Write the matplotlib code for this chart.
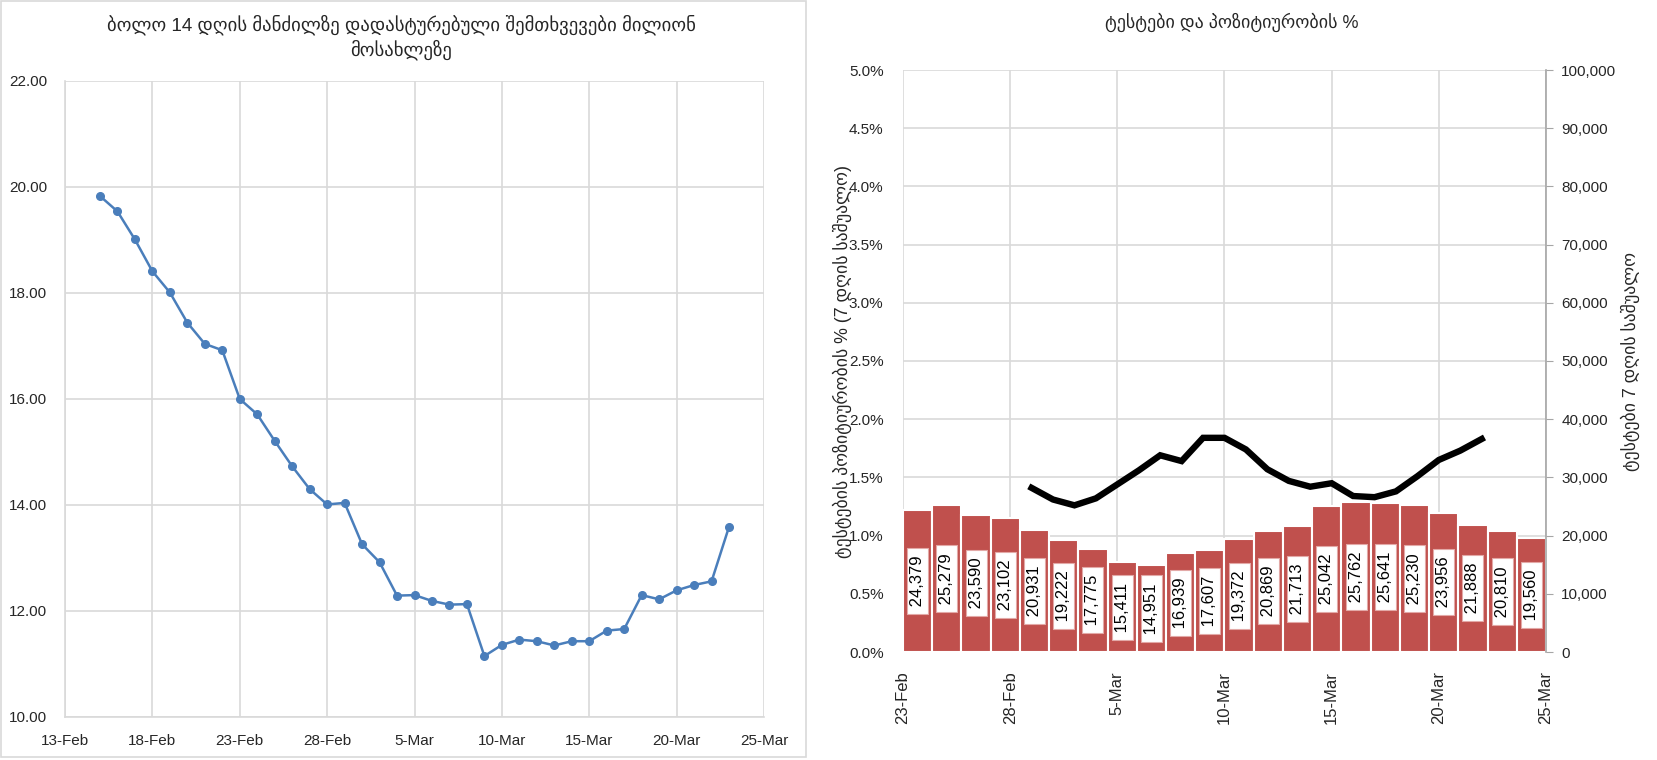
import matplotlib
matplotlib.use('Agg')
import matplotlib.pyplot as plt
import matplotlib.dates as mdates
import matplotlib.ticker as mticker
from matplotlib.patches import Rectangle
import pandas as pd

plt.rcParams['font.family'] = ['Liberation Sans', 'DejaVu Sans']

# ---- data ----
case_dates = pd.date_range('2021-02-15', '2021-03-23')
cases_per_million = [19.83, 19.54, 19.01, 18.41, 18.01, 17.44, 17.04, 16.92, 16.00, 15.71,
                     15.21, 14.73, 14.30, 14.01, 14.04, 13.26, 12.92, 12.29, 12.30, 12.19,
                     12.12, 12.13, 11.15, 11.36, 11.46, 11.43, 11.35, 11.43, 11.43, 11.63,
                     11.66, 12.30, 12.22, 12.39, 12.49, 12.56, 13.59]

tests_7day = [24379, 25279, 23590, 23102, 20931, 19222, 17775, 15411, 14951, 16939, 17607,
              19372, 20869, 21713, 25042, 25762, 25641, 25230, 23956, 21888, 20810, 19560]

positivity_dates = pd.date_range('2021-03-01', '2021-03-22')
positivity_pct = [1.41, 1.31, 1.26, 1.32, 1.44, 1.56, 1.69, 1.64, 1.84, 1.84, 1.74,
                  1.57, 1.47, 1.42, 1.45, 1.34, 1.33, 1.38, 1.51, 1.65, 1.73, 1.83]

left_title = 'ბოლო 14 დღის მანძილზე დადასტურებული შემთხვევები მილიონ\nმოსახლეზე'
right_title = 'ტესტები და პოზიტიურობის %'
left_ylabel = 'ტესტების პოზიტიურობის % (7 დღის საშუალო)'
right_ylabel = 'ტესტები 7 დღის საშუალო'

grid_c = '#d9d9d9'
text_c = '#262626'
blue = '#4a7ebb'
red = '#c0504d'

fig = plt.figure(figsize=(16.58, 7.6), dpi=100)
W, H = 1658, 760

def rect(l, t, r, b):
    return [l / W, 1 - b / H, (r - l) / W, (b - t) / H]

# border round the left chart
fig.patches.append(Rectangle((1 / W, 3 / H), 805 / W, 756 / H, transform=fig.transFigure,
                             fill=False, ec=grid_c, lw=1.2))

# ---- left chart ----
ax = fig.add_axes(rect(65, 81, 764, 717))
ax.plot(case_dates, cases_per_million, color=blue, lw=1.8, marker='o', ms=5.5)
ax.set_xlim(pd.Timestamp('2021-02-13'), pd.Timestamp('2021-03-25'))
ax.set_ylim(10, 22)
ax.set_yticks(range(10, 23, 2))
ax.yaxis.set_major_formatter(mticker.FormatStrFormatter('%.2f'))
ax.set_xticks(pd.date_range('2021-02-13', '2021-03-25', freq='5D'))
ax.xaxis.set_major_formatter(mdates.DateFormatter('%-d-%b'))
ax.grid(True, color=grid_c, lw=1.2)
ax.set_axisbelow(True)
for s in ['top', 'right']:
    ax.spines[s].set_visible(False)
for s in ['left', 'bottom']:
    ax.spines[s].set_color(grid_c)
    ax.spines[s].set_linewidth(1.2)
ax.tick_params(length=0, labelsize=11, colors=text_c)
ax.tick_params(axis='y', pad=13)
ax.tick_params(axis='x', pad=12)
fig.text(401 / W, 1 - 37 / H, left_title, ha='center', va='center', fontsize=13.5,
         color=text_c, linespacing=1.25)

# ---- right chart ----
r_rect = rect(903, 70, 1546, 652)

# background grid + percent axis + dates
axg = fig.add_axes(r_rect)
axg.set_xlim(pd.Timestamp('2021-02-23'), pd.Timestamp('2021-03-25'))
axg.set_ylim(0, 5)
axg.set_yticks([i * 0.5 for i in range(11)])
axg.yaxis.set_major_formatter(mticker.FuncFormatter(lambda v, p: f'{v:.1f}%'))
axg.set_xticks(pd.date_range('2021-02-23', '2021-03-25', freq='5D'))
axg.xaxis.set_major_formatter(mdates.DateFormatter('%-d-%b'))
axg.grid(True, color=grid_c, lw=1.2)
for s in axg.spines.values():
    s.set_visible(False)
axg.tick_params(length=0, colors=text_c)
axg.tick_params(axis='y', labelsize=11, pad=14)
axg.tick_params(axis='x', labelsize=12, pad=14, labelrotation=90)

# bars with the test numbers
axb = fig.add_axes(r_rect)
axb.patch.set_visible(False)
idx = list(range(len(tests_7day)))
axb.bar(idx, tests_7day, width=1, align='edge', color=red, edgecolor='white', lw=1.5)
for i, v in zip(idx, tests_7day):
    axb.text(i + 0.5, v / 2, f' {v:,} ', rotation=90, ha='center', va='center', fontsize=12,
             color='black',
             bbox=dict(boxstyle='square,pad=0.18', fc='white', ec='#e3a9a7', lw=0.8))
axb.set_xlim(0, len(tests_7day))
axb.set_ylim(0, 100000)
axb.set_yticks(range(0, 100001, 10000))
axb.yaxis.set_major_formatter(mticker.FuncFormatter(lambda v, p: f'{v:,.0f}'))
axb.yaxis.tick_right()
axb.set_xticks([])
for s in ['top', 'left', 'bottom']:
    axb.spines[s].set_visible(False)
axb.spines['right'].set_color('#a6a6a6')
axb.spines['right'].set_linewidth(1.2)
axb.tick_params(axis='y', direction='out', length=5, color='#a6a6a6', labelsize=11,
                labelcolor=text_c, pad=6)

# positivity line on top
axl = fig.add_axes(r_rect, sharex=axg, sharey=axg)
axl.patch.set_visible(False)
axl.axis('off')
axl.plot(positivity_dates, positivity_pct, color='black', lw=4.6, solid_joinstyle='miter')

fig.text(1232 / W, 1 - 22 / H, right_title, ha='center', va='center', fontsize=13, color=text_c)
fig.text(842 / W, 1 - 361 / H, left_ylabel, rotation=90, ha='center', va='center',
         fontsize=12.8, color=text_c)
fig.text(1630 / W, 1 - 361 / H, right_ylabel, rotation=90, ha='center', va='center',
         fontsize=12.8, color=text_c)

fig.savefig('out.png', dpi=100)
